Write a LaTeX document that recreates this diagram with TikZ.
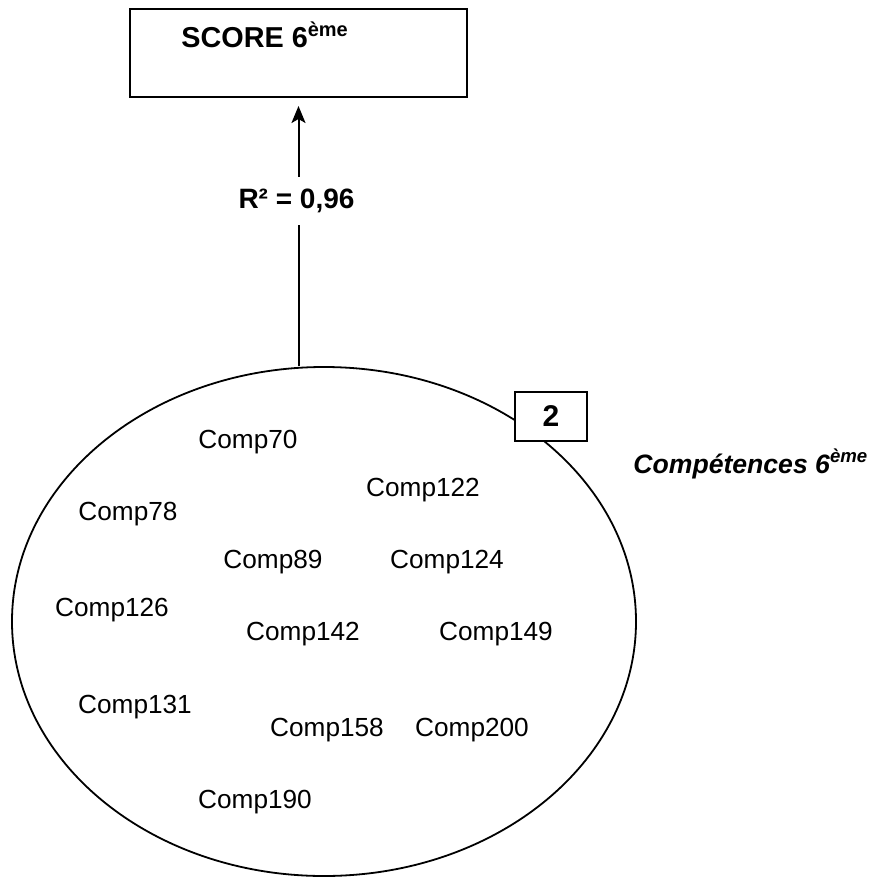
\documentclass[tikz,border=0pt]{standalone}
\usepackage{fontspec}
\setmainfont{Liberation Sans}
\usetikzlibrary{arrows.meta,shapes.geometric}

\begin{document}
\begin{tikzpicture}[x=0.5pt,y=-0.5pt,
  comp/.style={font=\fontsize{13.1}{15}\selectfont},
  boldtxt/.style={font=\fontsize{14}{16}\selectfont\bfseries}]
  \useasboundingbox (0,0) rectangle (874,878);
  % score box
  \node[draw,line width=1pt,minimum width=168.5pt,minimum height=44pt,inner sep=0pt] (score) at (298.5,53) {};
  \node[font=\fontsize{14.4}{16}\selectfont\bfseries,anchor=base west,inner sep=0pt] (scoretxt) at (181,47) {SCORE 6\textsuperscript{ème}};
  % competences
  \node[draw,ellipse,line width=0.9pt,minimum width=312pt,minimum height=254.5pt,inner sep=0pt] (comps) at (324,621.5) {};
  \node[draw,fill=white,line width=1pt,minimum width=36pt,minimum height=24.5pt,inner sep=0pt,font=\fontsize{15}{17}\selectfont\bfseries] (num) at (551,416.5) {2};
  \node[font=\fontsize{13.3}{15}\selectfont\bfseries\itshape,anchor=base west,inner sep=0pt] (compstxt) at (633,473) {Compétences 6\textsuperscript{ème}};
  \foreach \n/\x/\y in {70/248/442,122/423/490,78/128/514,89/273/562,124/447/562,
    126/112/610,142/303/634,149/496/634,131/135/707,158/327/730,200/472/730,190/255/802}
    \node[comp] (c\n) at (\x,\y) {Comp\n};
  % link
  \draw[line width=1pt,-{Stealth[length=8.5pt,width=7pt,inset=2pt]},shorten >=4pt]
    (comps.north -| score.south) -- node[pos=0.615,fill=white,inner xsep=2pt,inner ysep=6pt,xshift=-1pt,boldtxt] (r2) {R² = 0,96} (score.south);
\end{tikzpicture}
\end{document}
